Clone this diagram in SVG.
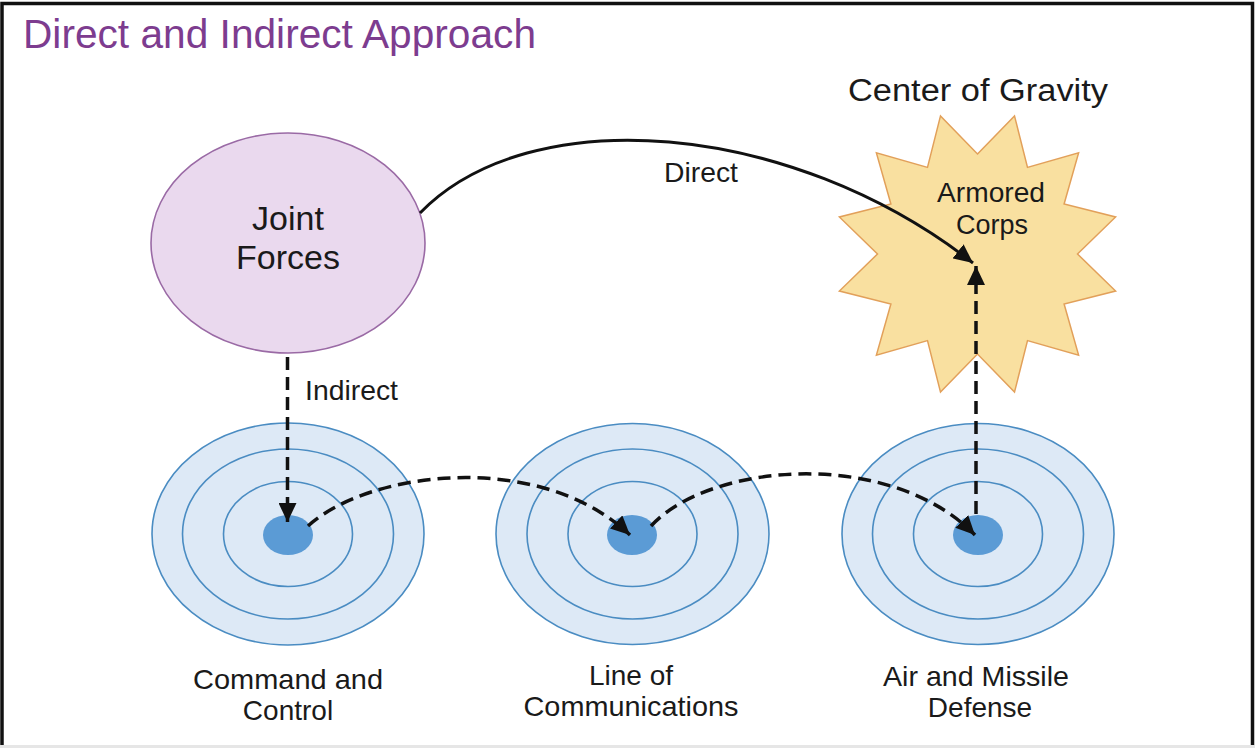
<svg xmlns="http://www.w3.org/2000/svg" width="1255" height="748" viewBox="0 0 1255 748">
<style>
text{font-family:"Liberation Sans",Arial,sans-serif;fill:#1a1a1a}
.lbl{font-size:28px}
.ring{fill:#dde9f6;stroke:#4a8cc2;stroke-width:1.6}
.dot{fill:#5b9bd5}
.conn{fill:none;stroke:#111;stroke-width:3}
.dash{stroke-dasharray:13 7;stroke-width:3.5}
</style>
<defs>
<marker id="ah" markerUnits="userSpaceOnUse" markerWidth="20" markerHeight="18" refX="19" refY="9" orient="auto">
<path d="M0,0 L19,9 L0,18 z" fill="#111"/>
</marker>
</defs>
<rect width="1255" height="748" fill="#fff"/>
<path d="M2,748 V3.5 H1252.5 V748" fill="none" stroke="#111" stroke-width="3.5"/>
<line x1="0" y1="746.5" x2="1255" y2="746.5" stroke="#e6e6e6" stroke-width="3"/>
<text x="23" y="48" font-size="41" textLength="513" lengthAdjust="spacingAndGlyphs" style="fill:#7d3c8f">Direct and Indirect Approach</text>

<g id="joint-forces">
<ellipse cx="288" cy="243" rx="137" ry="110" fill="#ead9ee" stroke="#9a6aa5" stroke-width="1.6"/>
<text x="288" y="230" font-size="34" text-anchor="middle">Joint</text>
<text x="288" y="269" font-size="34" text-anchor="middle">Forces</text>
</g>

<g id="center-of-gravity">
<text x="978" y="101" font-size="31" text-anchor="middle" textLength="260" lengthAdjust="spacingAndGlyphs">Center of Gravity</text>
<polygon fill="#f9e0a0" stroke="#e2a05a" stroke-width="1.5" points="977.5,154 1014.5,115.9 1027.5,167.4 1078.6,152.9 1064.1,204 1115.6,217 1077.5,254 1115.6,291 1064.1,304 1078.6,355.1 1027.5,340.6 1014.5,392.1 977.5,354 940.5,392.1 927.5,340.6 876.4,355.1 890.9,304 839.4,291 877.5,254 839.4,217 890.9,204 876.4,152.9 927.5,167.4 940.5,115.9"/>
<text x="991" y="202" font-size="27" text-anchor="middle" textLength="108" lengthAdjust="spacingAndGlyphs">Armored</text>
<text x="992" y="234" font-size="27" text-anchor="middle">Corps</text>
</g>

<g id="command-and-control">
<ellipse class="ring" cx="288" cy="534" rx="136" ry="111"/>
<ellipse class="ring" cx="288" cy="534" rx="105.5" ry="85"/>
<ellipse class="ring" cx="288" cy="534" rx="64.5" ry="52.5"/>
<ellipse class="dot" cx="288" cy="535" rx="25" ry="20"/>
<text class="lbl" x="288" y="689" text-anchor="middle" textLength="190" lengthAdjust="spacingAndGlyphs">Command and</text>
<text class="lbl" x="288" y="720" text-anchor="middle">Control</text>
</g>

<g id="line-of-communications">
<ellipse class="ring" cx="632.5" cy="534" rx="136.5" ry="110.5"/>
<ellipse class="ring" cx="632.5" cy="534" rx="105.5" ry="85"/>
<ellipse class="ring" cx="632.5" cy="534" rx="64.5" ry="52.5"/>
<ellipse class="dot" cx="632" cy="535" rx="25" ry="20"/>
<text class="lbl" x="631" y="685" text-anchor="middle">Line of</text>
<text class="lbl" x="631" y="716" text-anchor="middle" textLength="215" lengthAdjust="spacingAndGlyphs">Communications</text>
</g>

<g id="air-and-missile-defense">
<ellipse class="ring" cx="978" cy="534" rx="136" ry="110.5"/>
<ellipse class="ring" cx="978" cy="534" rx="105.5" ry="85"/>
<ellipse class="ring" cx="978" cy="534" rx="64.5" ry="52.5"/>
<ellipse class="dot" cx="978" cy="535" rx="25" ry="20"/>
<text class="lbl" x="976" y="686" text-anchor="middle" textLength="186" lengthAdjust="spacingAndGlyphs">Air and Missile</text>
<text class="lbl" x="980" y="717" text-anchor="middle">Defense</text>
</g>

<g id="connectors">
<path class="conn" d="M420,213 C530,100 790,120 973,263" marker-end="url(#ah)"/>
<text class="lbl" x="664" y="182" textLength="74" lengthAdjust="spacingAndGlyphs">Direct</text>
<path class="conn dash" d="M287.5,357 V522" marker-end="url(#ah)"/>
<text class="lbl" x="305" y="400" textLength="93" lengthAdjust="spacingAndGlyphs">Indirect</text>
<path class="conn dash" d="M308,526 C370,470 540,450 630,535" marker-end="url(#ah)"/>
<path class="conn dash" d="M651,526 C710,462 890,448 975,535" marker-end="url(#ah)"/>
<path class="conn dash" d="M976,514 V266" marker-end="url(#ah)"/>
</g>
</svg>
